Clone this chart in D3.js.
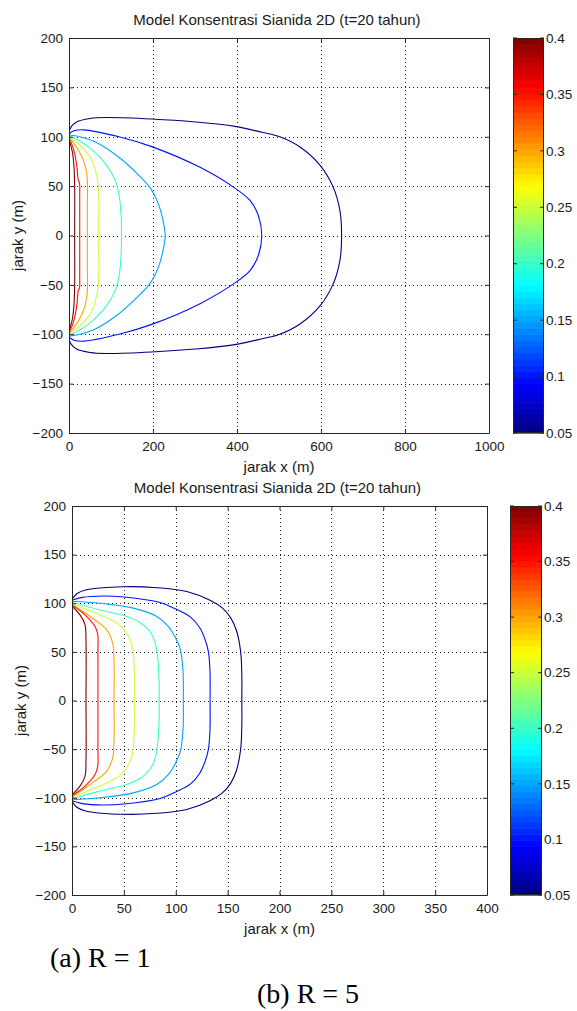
<!DOCTYPE html>
<html><head><meta charset="utf-8">
<script src="https://cdn.jsdelivr.net/npm/d3@7"></script>
<style>
html,body{margin:0;padding:0;background:#fff;}
svg{display:block;}
</style></head>
<body>
<svg id="chart" width="577" height="1011"></svg>
<script>
// ---------- DATA ----------
const titleText = "Model Konsentrasi Sianida 2D (t=20 tahun)";
const xLabel = "jarak x (m)";
const yLabel = "jarak y (m)";
const captionA = "(a) R = 1";
const captionB = "(b) R = 5";
const levels = [0.05, 0.1, 0.15, 0.2, 0.25, 0.3, 0.35, 0.4];
const cbTicks = [0.05, 0.1, 0.15, 0.2, 0.25, 0.3, 0.35, 0.4];
const cbTickLabels = ["0.05", "0.1", "0.15", "0.2", "0.25", "0.3", "0.35", "0.4"];
const yTicks = [-200, -150, -100, -50, 0, 50, 100, 150, 200];
const xTicksA = [0, 200, 400, 600, 800, 1000];
const xTicksB = [0, 50, 100, 150, 200, 250, 300, 350, 400];

// upper half of each contour (x, y), R = 1 ; lower half is the mirror image
const r1_005 = [[0,105],[5,110],[18,115],[50,118.5],[90,119.5],[197,118],[300,115],[395,110.5],[460,104.5],[502,100],[550,89.6],[598,71],[629,49],[645,25.4],[649,0]];
const r1_010 = [[0,103],[12,106],[34,107],[121,99.8],[197,90],[312,69],[395,48],[431,35.5],[451,20],[459,0]];
const r1_015 = [[0,102],[31,99.5],[63,94.7],[118,79.5],[164,62],[194,48],[212,33],[223,17],[229,0]];
const r1_020 = [[0,101],[20,97],[47,89.7],[86.5,72.8],[110,55.8],[120,38.9],[124.6,15.2],[125,0]];
const r1_025 = [[0,100],[15,95],[31,89.7],[54.8,76],[66.7,59],[70.6,45],[71,20],[71,0]];
const r1_030 = [[0,99],[12,93],[23,86],[37,72.8],[43,60],[43.6,30],[43.6,0]];
const r1_035 = [[0,98],[7,92],[13.5,83],[19,69],[22,56],[25,53],[25.5,40],[25.5,0]];
const r1_040 = [[0,97],[5,90],[8.7,83],[12,69],[13.5,50],[13.5,0]];

// R = 5
const r5_005 = [[0,104],[5,110],[14,113.8],[49.5,117],[81.7,116],[110.6,112],[133,103],[145,95],[153,85],[158.5,72],[161.5,58],[163,45],[163.7,25],[163.7,0]];
const r5_010 = [[0,103],[10,106],[30,107.5],[50,106.5],[84.9,100.8],[100,94],[114,86],[123,75],[128.5,62],[131.5,50],[133,30],[133.1,0]];
const r5_015 = [[0,102],[27,100],[59,95],[81.7,86.4],[93,76],[99.5,65],[104.5,52],[107,30],[107.3,0]];
const r5_020 = [[0,101],[27,93],[52.8,86.4],[66,80],[75,71],[80,60],[82.5,45],[84,20],[84,0]];
const r5_025 = [[0,100],[15,93],[27,88],[46.3,77],[56,62.4],[59,48.7],[60,30],[60,0]];
const r5_030 = [[0,99],[17.4,86.4],[33.5,72.7],[39.2,59],[40.5,40],[40.5,0]];
const r5_035 = [[0,98],[12.5,88],[22.2,76],[24.8,68],[25,50],[25,0]];
const r5_040 = [[0,97],[7.7,88],[12.5,78],[13.5,60],[13.5,0]];

const contoursR1 = [r1_005, r1_010, r1_015, r1_020, r1_025, r1_030, r1_035, r1_040];
const contoursR5 = [r5_005, r5_010, r5_015, r5_020, r5_025, r5_030, r5_035, r5_040];

// ---------- DRAWING ----------
const svg = d3.select("#chart");
const FONT = "'Liberation Sans', Arial, Helvetica, sans-serif";
const FS = 13.5;   // tick labels
const FS_T = 15;   // title and axis labels

function clamp01(v){ return Math.max(0, Math.min(1, v)); }
function jet(t){
  const r = clamp01(1.5 - Math.abs(4*t - 3));
  const g = clamp01(1.5 - Math.abs(4*t - 2));
  const b = clamp01(1.5 - Math.abs(4*t - 1));
  return d3.rgb(r*255, g*255, b*255).formatHex();
}
const levelT = d3.scaleLinear().domain([0.05, 0.4]).range([0, 1]);

function drawPanel(cfg, idx){
  const {left, right, top, bottom, xMax, xTicks, contours, cbLeft, cbRight, cbTop, cbBottom} = cfg;
  const x = d3.scaleLinear().domain([0, xMax]).range([left, right]);
  const y = d3.scaleLinear().domain([-200, 200]).range([bottom, top]);
  const g = svg.append("g");

  // grid
  const grid = g.append("g").attr("stroke", "#222").attr("stroke-width", 1)
    .attr("stroke-dasharray", "1,3");
  xTicks.filter(v => v !== 0 && v !== xMax).forEach(v => {
    grid.append("line").attr("x1", Math.round(x(v))+0.5).attr("x2", Math.round(x(v))+0.5)
      .attr("y1", top).attr("y2", bottom);
  });
  yTicks.filter(v => v !== -200 && v !== 200).forEach(v => {
    grid.append("line").attr("y1", Math.round(y(v))+0.5).attr("y2", Math.round(y(v))+0.5)
      .attr("x1", left).attr("x2", right);
  });

  // contours
  const clipId = "clip" + idx;
  svg.append("clipPath").attr("id", clipId).append("rect")
    .attr("x", left).attr("y", top).attr("width", right-left).attr("height", bottom-top);
  const line = d3.line().x(d => x(d[0])).y(d => y(d[1])).curve(d3.curveCatmullRom.alpha(0.5));
  const cg = g.append("g").attr("clip-path", `url(#${clipId})`);
  contours.forEach((upper, i) => {
    const full = upper.concat(upper.slice(0, -1).reverse().map(p => [p[0], -p[1]]));
    cg.append("path").attr("d", line(full)).attr("fill", "none")
      .attr("stroke", jet(levelT(levels[i]))).attr("stroke-width", 1.1);
  });

  // axes
  const fmt = d3.format("d");
  const axB = d3.axisBottom(x).tickValues(xTicks).tickFormat(fmt).tickSizeInner(-4).tickSizeOuter(0).tickPadding(8.5);
  const axL = d3.axisLeft(y).tickValues(yTicks).tickFormat(fmt).tickSizeInner(-4).tickSizeOuter(0).tickPadding(6);
  const axT = d3.axisTop(x).tickValues(xTicks).tickSizeInner(-4).tickSizeOuter(0).tickFormat(() => "");
  const axR = d3.axisRight(y).tickValues(yTicks).tickSizeInner(-4).tickSizeOuter(0).tickFormat(() => "");
  const styleAxis = sel => {
    sel.selectAll("path,line").attr("stroke", "#262626");
    sel.selectAll("text").attr("font-family", FONT).attr("font-size", FS).attr("fill", "#1a1a1a");
    sel.attr("font-family", null).attr("font-size", null);
  };
  g.append("g").attr("transform", `translate(0,${bottom})`).call(axB).call(styleAxis);
  g.append("g").attr("transform", `translate(${left},0)`).call(axL).call(styleAxis);
  g.append("g").attr("transform", `translate(0,${top})`).call(axT).call(styleAxis);
  g.append("g").attr("transform", `translate(${right},0)`).call(axR).call(styleAxis);

  // title & labels
  g.append("text").attr("x", (left+right)/2 - 2).attr("y", top - 18).attr("dy", "0.35em")
    .attr("text-anchor", "middle").attr("font-family", FONT).attr("font-size", FS_T).attr("fill", "#1a1a1a")
    .text(titleText);
  g.append("text").attr("x", (left+right)/2).attr("y", bottom + 34).attr("dy", "0.35em")
    .attr("text-anchor", "middle").attr("font-family", FONT).attr("font-size", FS_T).attr("fill", "#1a1a1a")
    .text(xLabel);
  g.append("text").attr("transform", `translate(${left-51},${(top+bottom)/2}) rotate(-90)`)
    .attr("dy", "0.35em").attr("text-anchor", "middle")
    .attr("font-family", FONT).attr("font-size", FS_T).attr("fill", "#1a1a1a").text(yLabel);

  // colorbar
  const cb = d3.scaleLinear().domain([0.05, 0.4]).range([cbBottom, cbTop]);
  const nBands = 64;
  const bandH = (cbBottom - cbTop) / nBands;
  const cbg = g.append("g");
  d3.range(nBands).forEach(k => {
    cbg.append("rect").attr("x", cbLeft).attr("width", cbRight - cbLeft)
      .attr("y", cbBottom - (k+1)*bandH).attr("height", bandH + 0.6)
      .attr("fill", jet((k + 0.5) / nBands));
  });
  cbg.append("rect").attr("x", cbLeft+0.5).attr("y", cbTop+0.5)
    .attr("width", cbRight - cbLeft - 1).attr("height", cbBottom - cbTop - 1)
    .attr("fill", "none").attr("stroke", "#262626");
  cbTicks.forEach((v, k) => {
    const yy = cb(v);
    cbg.append("line").attr("x1", cbLeft).attr("x2", cbLeft + 4).attr("y1", yy).attr("y2", yy).attr("stroke", "#262626");
    cbg.append("line").attr("x1", cbRight - 4).attr("x2", cbRight).attr("y1", yy).attr("y2", yy).attr("stroke", "#262626");
    cbg.append("text").attr("x", cbRight + 2).attr("y", yy).attr("dy", "0.35em")
      .attr("font-family", FONT).attr("font-size", FS).attr("fill", "#1a1a1a").text(cbTickLabels[k]);
  });
}

drawPanel({left: 69, right: 489, top: 38, bottom: 433, xMax: 1000, xTicks: xTicksA, contours: contoursR1,
  cbLeft: 513, cbRight: 544, cbTop: 38, cbBottom: 433}, 0);
drawPanel({left: 72, right: 487, top: 506, bottom: 895, xMax: 400, xTicks: xTicksB, contours: contoursR5,
  cbLeft: 510, cbRight: 542, cbTop: 506, cbBottom: 895}, 1);

// captions
svg.append("text").attr("x", 50).attr("y", 967).attr("font-family", "'Liberation Serif', 'Times New Roman', serif")
  .attr("font-size", 28).attr("fill", "#000").text(captionA);
svg.append("text").attr("x", 257).attr("y", 1003).attr("font-family", "'Liberation Serif', 'Times New Roman', serif")
  .attr("font-size", 28).attr("fill", "#000").text(captionB);
</script>
</body></html>
